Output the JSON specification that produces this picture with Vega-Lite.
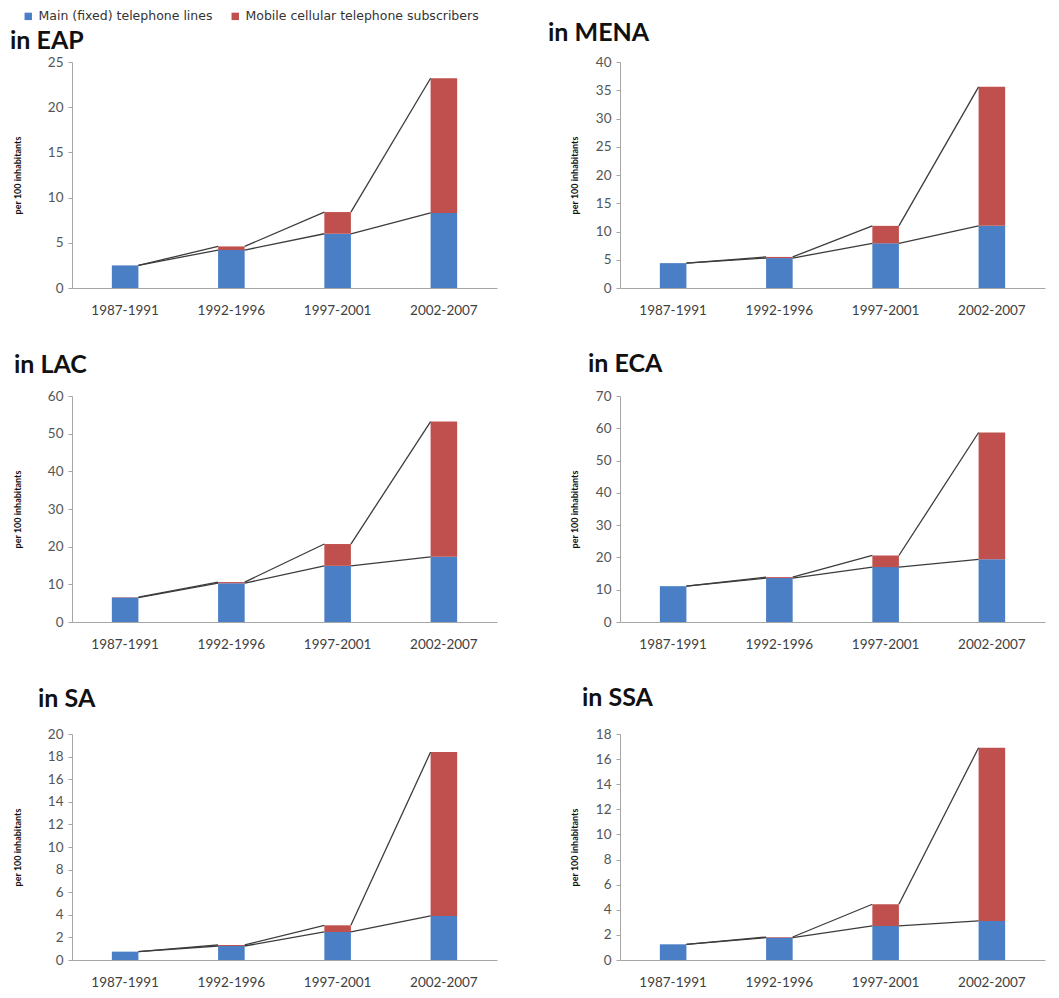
{
  "$schema": "https://vega.github.io/schema/vega-lite/v6.json",
  "padding": {"left": 10, "top": 10, "right": 5, "bottom": 2},
  "datasets": {
    "tel": [
      {"region": "EAP", "period": "1987-1991", "type": "Main (fixed) telephone lines", "value": 2.5},
      {"region": "EAP", "period": "1992-1996", "type": "Main (fixed) telephone lines", "value": 4.2},
      {"region": "EAP", "period": "1997-2001", "type": "Main (fixed) telephone lines", "value": 6.0},
      {"region": "EAP", "period": "2002-2007", "type": "Main (fixed) telephone lines", "value": 8.3},
      {"region": "EAP", "period": "1987-1991", "type": "Mobile cellular telephone subscribers", "value": 0.0},
      {"region": "EAP", "period": "1992-1996", "type": "Mobile cellular telephone subscribers", "value": 0.4},
      {"region": "EAP", "period": "1997-2001", "type": "Mobile cellular telephone subscribers", "value": 2.4},
      {"region": "EAP", "period": "2002-2007", "type": "Mobile cellular telephone subscribers", "value": 14.9},
      {"region": "MENA", "period": "1987-1991", "type": "Main (fixed) telephone lines", "value": 4.4},
      {"region": "MENA", "period": "1992-1996", "type": "Main (fixed) telephone lines", "value": 5.3},
      {"region": "MENA", "period": "1997-2001", "type": "Main (fixed) telephone lines", "value": 7.9},
      {"region": "MENA", "period": "2002-2007", "type": "Main (fixed) telephone lines", "value": 11.0},
      {"region": "MENA", "period": "1987-1991", "type": "Mobile cellular telephone subscribers", "value": 0.0},
      {"region": "MENA", "period": "1992-1996", "type": "Mobile cellular telephone subscribers", "value": 0.2},
      {"region": "MENA", "period": "1997-2001", "type": "Mobile cellular telephone subscribers", "value": 3.1},
      {"region": "MENA", "period": "2002-2007", "type": "Mobile cellular telephone subscribers", "value": 24.6},
      {"region": "LAC", "period": "1987-1991", "type": "Main (fixed) telephone lines", "value": 6.5},
      {"region": "LAC", "period": "1992-1996", "type": "Main (fixed) telephone lines", "value": 10.3},
      {"region": "LAC", "period": "1997-2001", "type": "Main (fixed) telephone lines", "value": 14.9},
      {"region": "LAC", "period": "2002-2007", "type": "Main (fixed) telephone lines", "value": 17.3},
      {"region": "LAC", "period": "1987-1991", "type": "Mobile cellular telephone subscribers", "value": 0.1},
      {"region": "LAC", "period": "1992-1996", "type": "Mobile cellular telephone subscribers", "value": 0.3},
      {"region": "LAC", "period": "1997-2001", "type": "Mobile cellular telephone subscribers", "value": 5.8},
      {"region": "LAC", "period": "2002-2007", "type": "Mobile cellular telephone subscribers", "value": 35.9},
      {"region": "ECA", "period": "1987-1991", "type": "Main (fixed) telephone lines", "value": 11.1},
      {"region": "ECA", "period": "1992-1996", "type": "Main (fixed) telephone lines", "value": 13.6},
      {"region": "ECA", "period": "1997-2001", "type": "Main (fixed) telephone lines", "value": 17.0},
      {"region": "ECA", "period": "2002-2007", "type": "Main (fixed) telephone lines", "value": 19.4},
      {"region": "ECA", "period": "1987-1991", "type": "Mobile cellular telephone subscribers", "value": 0.0},
      {"region": "ECA", "period": "1992-1996", "type": "Mobile cellular telephone subscribers", "value": 0.3},
      {"region": "ECA", "period": "1997-2001", "type": "Mobile cellular telephone subscribers", "value": 3.6},
      {"region": "ECA", "period": "2002-2007", "type": "Mobile cellular telephone subscribers", "value": 39.3},
      {"region": "SA", "period": "1987-1991", "type": "Main (fixed) telephone lines", "value": 0.74},
      {"region": "SA", "period": "1992-1996", "type": "Main (fixed) telephone lines", "value": 1.24},
      {"region": "SA", "period": "1997-2001", "type": "Main (fixed) telephone lines", "value": 2.48},
      {"region": "SA", "period": "2002-2007", "type": "Main (fixed) telephone lines", "value": 3.9},
      {"region": "SA", "period": "1987-1991", "type": "Mobile cellular telephone subscribers", "value": 0.0},
      {"region": "SA", "period": "1992-1996", "type": "Mobile cellular telephone subscribers", "value": 0.09},
      {"region": "SA", "period": "1997-2001", "type": "Mobile cellular telephone subscribers", "value": 0.59},
      {"region": "SA", "period": "2002-2007", "type": "Mobile cellular telephone subscribers", "value": 14.5},
      {"region": "SSA", "period": "1987-1991", "type": "Main (fixed) telephone lines", "value": 1.25},
      {"region": "SSA", "period": "1992-1996", "type": "Main (fixed) telephone lines", "value": 1.78},
      {"region": "SSA", "period": "1997-2001", "type": "Main (fixed) telephone lines", "value": 2.71},
      {"region": "SSA", "period": "2002-2007", "type": "Main (fixed) telephone lines", "value": 3.11},
      {"region": "SSA", "period": "1987-1991", "type": "Mobile cellular telephone subscribers", "value": 0.0},
      {"region": "SSA", "period": "1992-1996", "type": "Mobile cellular telephone subscribers", "value": 0.05},
      {"region": "SSA", "period": "1997-2001", "type": "Mobile cellular telephone subscribers", "value": 1.73},
      {"region": "SSA", "period": "2002-2007", "type": "Mobile cellular telephone subscribers", "value": 13.8}
    ]
  },
  "data": {"name": "tel"},
  "columns": 2,
  "spacing": {"row": 35, "column": 51},
  "concat": [
    {
      "width": 425, "height": 226,
      "title": {"text": "in EAP", "dx": -62, "offset": 1},
      "transform": [{"filter": "datum.region === 'EAP'"}],
      "layer": [
        {"mark": {"type": "bar"},
         "encoding": {
           "x": {"field": "period", "type": "nominal", "title": null},
           "y": {"field": "value", "type": "quantitative", "stack": "zero", "scale": {"domain": [0, 25], "nice": false}, "axis": {"values": [0, 5, 10, 15, 20, 25], "title": "per 100 inhabitants", "titlePadding": 25}},
           "color": {"field": "type", "type": "nominal"},
           "order": {"field": "type", "sort": "ascending"}
         }},
        {"transform": [
           {"stack": "value", "groupby": ["period"], "sort": [{"field": "type", "order": "ascending"}], "as": ["y0", "y1"]},
           {"window": [{"op": "lead", "field": "y1", "as": "y1next"}, {"op": "lead", "field": "period", "as": "pnext"}], "groupby": ["type"], "sort": [{"field": "period", "order": "ascending"}]},
           {"filter": "datum.pnext != null"}
         ],
         "mark": {"type": "rule", "color": "#3c3c3c", "strokeWidth": 1.3},
         "encoding": {
           "x": {"field": "period", "type": "nominal", "bandPosition": 1},
           "x2": {"field": "pnext", "bandPosition": 0},
           "y": {"field": "y1", "type": "quantitative", "axis": {"values": [0, 5, 10, 15, 20, 25], "title": "per 100 inhabitants", "titlePadding": 25}},
           "y2": {"field": "y1next"}
         }}
      ]
    },
    {
      "width": 425, "height": 226,
      "title": {"text": "in MENA", "dx": -72, "offset": 9},
      "transform": [{"filter": "datum.region === 'MENA'"}],
      "layer": [
        {"mark": {"type": "bar"},
         "encoding": {
           "x": {"field": "period", "type": "nominal", "title": null},
           "y": {"field": "value", "type": "quantitative", "stack": "zero", "scale": {"domain": [0, 40], "nice": false}, "axis": {"values": [0, 5, 10, 15, 20, 25, 30, 35, 40], "title": "per 100 inhabitants", "titlePadding": 16}},
           "color": {"field": "type", "type": "nominal"},
           "order": {"field": "type", "sort": "ascending"}
         }},
        {"transform": [
           {"stack": "value", "groupby": ["period"], "sort": [{"field": "type", "order": "ascending"}], "as": ["y0", "y1"]},
           {"window": [{"op": "lead", "field": "y1", "as": "y1next"}, {"op": "lead", "field": "period", "as": "pnext"}], "groupby": ["type"], "sort": [{"field": "period", "order": "ascending"}]},
           {"filter": "datum.pnext != null"}
         ],
         "mark": {"type": "rule", "color": "#3c3c3c", "strokeWidth": 1.3},
         "encoding": {
           "x": {"field": "period", "type": "nominal", "bandPosition": 1},
           "x2": {"field": "pnext", "bandPosition": 0},
           "y": {"field": "y1", "type": "quantitative", "axis": {"values": [0, 5, 10, 15, 20, 25, 30, 35, 40], "title": "per 100 inhabitants", "titlePadding": 16}},
           "y2": {"field": "y1next"}
         }}
      ]
    },
    {
      "width": 425, "height": 226,
      "title": {"text": "in LAC", "dx": -58, "offset": 11},
      "transform": [{"filter": "datum.region === 'LAC'"}],
      "layer": [
        {"mark": {"type": "bar"},
         "encoding": {
           "x": {"field": "period", "type": "nominal", "title": null},
           "y": {"field": "value", "type": "quantitative", "stack": "zero", "scale": {"domain": [0, 60], "nice": false}, "axis": {"values": [0, 10, 20, 30, 40, 50, 60], "title": "per 100 inhabitants", "titlePadding": 25}},
           "color": {"field": "type", "type": "nominal"},
           "order": {"field": "type", "sort": "ascending"}
         }},
        {"transform": [
           {"stack": "value", "groupby": ["period"], "sort": [{"field": "type", "order": "ascending"}], "as": ["y0", "y1"]},
           {"window": [{"op": "lead", "field": "y1", "as": "y1next"}, {"op": "lead", "field": "period", "as": "pnext"}], "groupby": ["type"], "sort": [{"field": "period", "order": "ascending"}]},
           {"filter": "datum.pnext != null"}
         ],
         "mark": {"type": "rule", "color": "#3c3c3c", "strokeWidth": 1.3},
         "encoding": {
           "x": {"field": "period", "type": "nominal", "bandPosition": 1},
           "x2": {"field": "pnext", "bandPosition": 0},
           "y": {"field": "y1", "type": "quantitative", "axis": {"values": [0, 10, 20, 30, 40, 50, 60], "title": "per 100 inhabitants", "titlePadding": 25}},
           "y2": {"field": "y1next"}
         }}
      ]
    },
    {
      "width": 425, "height": 226,
      "title": {"text": "in ECA", "dx": -32, "offset": 12},
      "transform": [{"filter": "datum.region === 'ECA'"}],
      "layer": [
        {"mark": {"type": "bar"},
         "encoding": {
           "x": {"field": "period", "type": "nominal", "title": null},
           "y": {"field": "value", "type": "quantitative", "stack": "zero", "scale": {"domain": [0, 70], "nice": false}, "axis": {"values": [0, 10, 20, 30, 40, 50, 60, 70], "title": "per 100 inhabitants", "titlePadding": 16}},
           "color": {"field": "type", "type": "nominal"},
           "order": {"field": "type", "sort": "ascending"}
         }},
        {"transform": [
           {"stack": "value", "groupby": ["period"], "sort": [{"field": "type", "order": "ascending"}], "as": ["y0", "y1"]},
           {"window": [{"op": "lead", "field": "y1", "as": "y1next"}, {"op": "lead", "field": "period", "as": "pnext"}], "groupby": ["type"], "sort": [{"field": "period", "order": "ascending"}]},
           {"filter": "datum.pnext != null"}
         ],
         "mark": {"type": "rule", "color": "#3c3c3c", "strokeWidth": 1.3},
         "encoding": {
           "x": {"field": "period", "type": "nominal", "bandPosition": 1},
           "x2": {"field": "pnext", "bandPosition": 0},
           "y": {"field": "y1", "type": "quantitative", "axis": {"values": [0, 10, 20, 30, 40, 50, 60, 70], "title": "per 100 inhabitants", "titlePadding": 16}},
           "y2": {"field": "y1next"}
         }}
      ]
    },
    {
      "width": 425, "height": 226,
      "title": {"text": "in SA", "dx": -34, "offset": 15},
      "transform": [{"filter": "datum.region === 'SA'"}],
      "layer": [
        {"mark": {"type": "bar"},
         "encoding": {
           "x": {"field": "period", "type": "nominal", "title": null},
           "y": {"field": "value", "type": "quantitative", "stack": "zero", "scale": {"domain": [0, 20], "nice": false}, "axis": {"values": [0, 2, 4, 6, 8, 10, 12, 14, 16, 18, 20], "title": "per 100 inhabitants", "titlePadding": 25}},
           "color": {"field": "type", "type": "nominal"},
           "order": {"field": "type", "sort": "ascending"}
         }},
        {"transform": [
           {"stack": "value", "groupby": ["period"], "sort": [{"field": "type", "order": "ascending"}], "as": ["y0", "y1"]},
           {"window": [{"op": "lead", "field": "y1", "as": "y1next"}, {"op": "lead", "field": "period", "as": "pnext"}], "groupby": ["type"], "sort": [{"field": "period", "order": "ascending"}]},
           {"filter": "datum.pnext != null"}
         ],
         "mark": {"type": "rule", "color": "#3c3c3c", "strokeWidth": 1.3},
         "encoding": {
           "x": {"field": "period", "type": "nominal", "bandPosition": 1},
           "x2": {"field": "pnext", "bandPosition": 0},
           "y": {"field": "y1", "type": "quantitative", "axis": {"values": [0, 2, 4, 6, 8, 10, 12, 14, 16, 18, 20], "title": "per 100 inhabitants", "titlePadding": 25}},
           "y2": {"field": "y1next"}
         }}
      ]
    },
    {
      "width": 425, "height": 226,
      "title": {"text": "in SSA", "dx": -38, "offset": 16},
      "transform": [{"filter": "datum.region === 'SSA'"}],
      "layer": [
        {"mark": {"type": "bar"},
         "encoding": {
           "x": {"field": "period", "type": "nominal", "title": null},
           "y": {"field": "value", "type": "quantitative", "stack": "zero", "scale": {"domain": [0, 18], "nice": false}, "axis": {"values": [0, 2, 4, 6, 8, 10, 12, 14, 16, 18], "title": "per 100 inhabitants", "titlePadding": 16}},
           "color": {"field": "type", "type": "nominal"},
           "order": {"field": "type", "sort": "ascending"}
         }},
        {"transform": [
           {"stack": "value", "groupby": ["period"], "sort": [{"field": "type", "order": "ascending"}], "as": ["y0", "y1"]},
           {"window": [{"op": "lead", "field": "y1", "as": "y1next"}, {"op": "lead", "field": "period", "as": "pnext"}], "groupby": ["type"], "sort": [{"field": "period", "order": "ascending"}]},
           {"filter": "datum.pnext != null"}
         ],
         "mark": {"type": "rule", "color": "#3c3c3c", "strokeWidth": 1.3},
         "encoding": {
           "x": {"field": "period", "type": "nominal", "bandPosition": 1},
           "x2": {"field": "pnext", "bandPosition": 0},
           "y": {"field": "y1", "type": "quantitative", "axis": {"values": [0, 2, 4, 6, 8, 10, 12, 14, 16, 18], "title": "per 100 inhabitants", "titlePadding": 16}},
           "y2": {"field": "y1next"}
         }}
      ]
    }
  ],
  "resolve": {"scale": {"color": "shared"}},
  "config": {
    "font": "Lato",
    "view": {"stroke": null},
    "scale": {"bandPaddingInner": 0.75, "bandPaddingOuter": 0.375},
    "range": {"category": ["#4A7EC5", "#C0504D"]},
    "title": {"anchor": "start", "frame": "group", "fontSize": 25, "fontWeight": "bold", "color": "#111111", "font": "Lato", "baseline": "alphabetic"},
    "axis": {"grid": false, "domainColor": "#a6a6a6", "tickColor": "#a6a6a6", "labelColor": "#555555", "labelFontSize": 13.5, "titleFontSize": 9, "titleFontWeight": "bold", "titleColor": "#111111", "labelOverlap": false},
    "axisX": {"labelAngle": 0, "ticks": false, "labelPadding": 15, "labelColor": "#404040", "domainColor": "#a6a6a6"},
    "axisY": {"tickSize": 4, "labelPadding": 5},
    "legend": {"orient": "none", "legendX": -50, "legendY": -52, "direction": "horizontal", "title": null, "symbolType": "square", "symbolSize": 55, "symbolStrokeWidth": 0, "labelFontSize": 12.5, "labelFont": "DejaVu Sans", "labelColor": "#333333", "columnPadding": 16, "labelLimit": 400, "symbolOpacity": 1}
  }
}
